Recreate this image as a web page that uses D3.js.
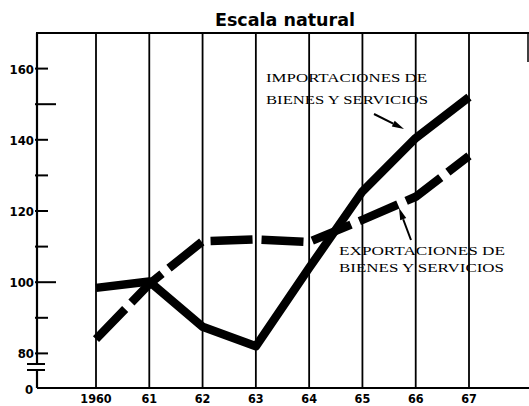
<!DOCTYPE html>
<html>
<head>
<meta charset="utf-8">
<script src="https://cdn.jsdelivr.net/npm/d3@7"></script>
<style>
  html, body { margin: 0; padding: 0; background: #fff; }
  svg { display: block; }
  .lbl { font-family: "DejaVu Sans Condensed", "DejaVu Sans", sans-serif; font-stretch: condensed; font-weight: bold; font-size: 13px; fill: #000; }
  .note { font-family: "Liberation Serif", "DejaVu Serif", serif; font-size: 13px; fill: #000; }
</style>
</head>
<body>
<div id="chart"></div>
<script>
// ─── DONNÉES ────────────────────────────────────────────────────────────────
const years = [1960, 1961, 1962, 1963, 1964, 1965, 1966, 1967];
const yearLabels = ["1960", "61", "62", "63", "64", "65", "66", "67"];
const importaciones = [98.4, 100.2, 87.5, 82, 104, 125.5, 140.5, 152];
const exportaciones = [84, 99.5, 111.5, 112, 111.3, 117.5, 124, 135.5];
const yTickLabels = [80, 100, 120, 140, 160];
const yMinorTicks = [90, 110, 130, 150];

// ─── DIMENSIONS ─────────────────────────────────────────────────────────────
const width = 529, height = 406;
const frameL = 37, frameR = 529, frameT = 33, frameB = 388;

const svg = d3.select("#chart").append("svg")
    .attr("width", width)
    .attr("height", height);

const x = d3.scaleLinear().domain([1960, 1967]).range([96, 469]);
const y = d3.scaleLinear().domain([70, 170]).range([frameB + 1, frameT]);

// Titre
svg.append("text")
    .attr("x", 285).attr("y", 26)
    .attr("text-anchor", "middle")
    .attr("textLength", 140)
    .attr("lengthAdjust", "spacingAndGlyphs")
    .style("font-family", "'DejaVu Sans', sans-serif")
    .style("font-weight", "900")
    .style("font-size", "18px")
    .text("Escala  natural");

// Cadre : haut, bas, axe gauche (interrompu)
svg.append("line").attr("x1", frameL - 1).attr("x2", frameR).attr("y1", frameT).attr("y2", frameT)
    .attr("stroke", "#000").attr("stroke-width", 2.2);
svg.append("line").attr("x1", frameL).attr("x2", frameR).attr("y1", frameB).attr("y2", frameB)
    .attr("stroke", "#000").attr("stroke-width", 2);
svg.append("line").attr("x1", frameL).attr("x2", frameL).attr("y1", frameT).attr("y2", 364)
    .attr("stroke", "#000").attr("stroke-width", 2.2);
svg.append("line").attr("x1", frameL).attr("x2", frameL).attr("y1", 370).attr("y2", frameB)
    .attr("stroke", "#000").attr("stroke-width", 2.2);
// marques de coupure
[364, 370].forEach(v => {
    svg.append("line").attr("x1", 27).attr("x2", 45).attr("y1", v).attr("y2", v)
        .attr("stroke", "#000").attr("stroke-width", 2);
});
// bout de bord droit
svg.append("line").attr("x1", 528).attr("x2", 528).attr("y1", frameT).attr("y2", 62)
    .attr("stroke", "#000").attr("stroke-width", 1.5);

// Lignes verticales des années
svg.append("g").selectAll("line")
    .data(years)
    .enter().append("line")
    .attr("x1", d => x(d)).attr("x2", d => x(d))
    .attr("y1", frameT).attr("y2", frameB)
    .attr("stroke", "#000").attr("stroke-width", 1.8);

// Graduations de l'axe Y
svg.append("g").selectAll("line")
    .data(yTickLabels.concat(yMinorTicks))
    .enter().append("line")
    .attr("x1", 35)
    .attr("x2", d => (d === 100 || d === 150) ? 56 : 48)
    .attr("y1", d => y(d)).attr("y2", d => y(d))
    .attr("stroke", "#000").attr("stroke-width", 2);

svg.append("g").selectAll("text")
    .data(yTickLabels)
    .enter().append("text")
    .attr("class", "lbl")
    .attr("x", 34).attr("y", d => y(d) + 5)
    .attr("text-anchor", "end")
    .text(d => d);

svg.append("text").attr("class", "lbl")
    .attr("x", 29).attr("y", frameB + 6)
    .attr("text-anchor", "middle")
    .text("0");

// Étiquettes X
svg.append("g").selectAll("text")
    .data(years)
    .enter().append("text")
    .attr("class", "lbl")
    .attr("x", d => x(d)).attr("y", 403)
    .attr("text-anchor", "middle")
    .style("font-size", "12.5px")
    .text((d, i) => yearLabels[i]);

// Courbes
const line = d3.line()
    .x((d, i) => x(years[i]))
    .y(d => y(d));

svg.append("path")
    .datum(exportaciones)
    .attr("d", line)
    .attr("fill", "none")
    .attr("stroke", "#000")
    .attr("stroke-width", 8.5)
    .attr("stroke-dasharray", "42,9")
    .attr("stroke-linejoin", "round");

svg.append("path")
    .datum(importaciones)
    .attr("d", line)
    .attr("fill", "none")
    .attr("stroke", "#000")
    .attr("stroke-width", 8.5)
    .attr("stroke-linejoin", "round");

// Annotations
function note(lines, x0, y0, dy, w) {
    lines.forEach((t, i) => {
        svg.append("text").attr("class", "note")
            .attr("x", x0).attr("y", y0 + i * dy)
            .attr("textLength", w[i])
            .attr("lengthAdjust", "spacingAndGlyphs")
            .text(t);
    });
}
note(["IMPORTACIONES DE", "BIENES Y SERVICIOS"], 266, 82, 22, [161, 162]);
note(["EXPORTACIONES DE", "BIENES Y SERVICIOS"], 339, 255, 17, [166, 165]);

function arrow(x1, y1, x2, y2) {
    const a = Math.atan2(y2 - y1, x2 - x1);
    const len = 12, half = 3.2;
    const bx = x2 - len * Math.cos(a), by = y2 - len * Math.sin(a);
    svg.append("line")
        .attr("x1", x1).attr("y1", y1).attr("x2", bx).attr("y2", by)
        .attr("stroke", "#000").attr("stroke-width", 2);
    svg.append("path")
        .attr("d", `M${x2},${y2}L${bx + half * Math.sin(a)},${by - half * Math.cos(a)}L${bx - half * Math.sin(a)},${by + half * Math.cos(a)}Z`)
        .attr("fill", "#000");
}
arrow(374, 114, 404, 129);
arrow(411, 240, 399, 208);
</script>
</body>
</html>
